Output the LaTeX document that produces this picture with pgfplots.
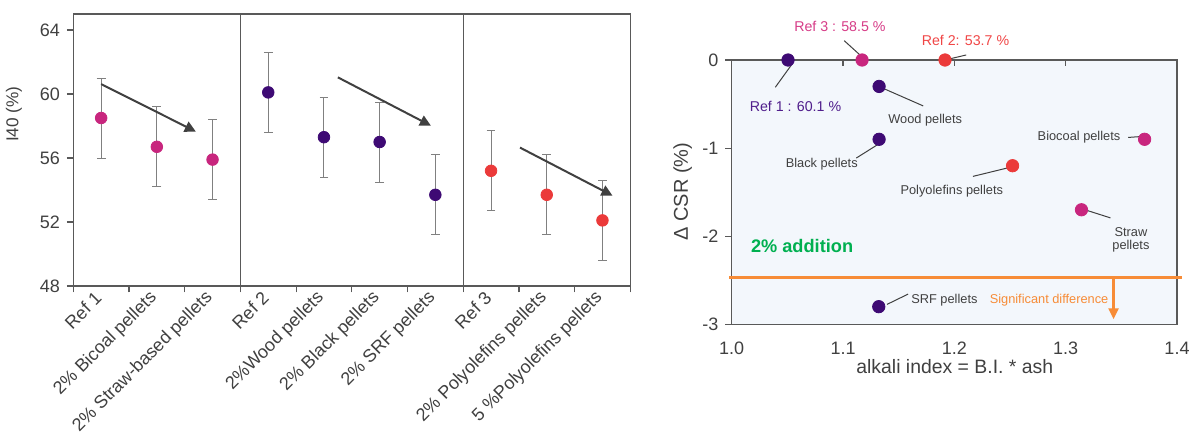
\documentclass[border=0pt]{standalone}
\usepackage{pgfplots}
\pgfplotsset{compat=1.18}
\usepackage{fontspec}
\setmainfont{Liberation Sans}
\usetikzlibrary{arrows.meta}

\definecolor{cmag}{RGB}{200,38,126}
\definecolor{cpur}{RGB}{62,10,116}
\definecolor{cred}{RGB}{235,58,58}
\definecolor{tmag}{RGB}{214,60,135}
\definecolor{tred}{RGB}{240,70,70}
\definecolor{tpur}{RGB}{80,30,140}
\definecolor{txtgray}{RGB}{64,64,64}
\definecolor{axgray}{RGB}{89,89,89}
\definecolor{errgray}{RGB}{128,128,128}
\definecolor{corange}{RGB}{247,140,55}
\definecolor{cgreen}{RGB}{0,176,80}
\definecolor{bgblue}{RGB}{243,247,252}

\newcommand{\fs}[1]{\fontsize{#1}{#1}\selectfont}

\pgfplotsset{
  common/.style={
    scale only axis, clip=false,
    axis line style={draw=axgray, line width=0.6bp},
    tick style={draw=axgray, line width=0.6bp},
    major tick length=3.2bp,
    tick label style={text=txtgray},
    label style={text=txtgray},
  },
  dots/.style={only marks, mark=*, mark size=#1},
}

\begin{document}
\begin{tikzpicture}
\useasboundingbox (0,0) rectangle (597.5bp,222bp);

% left panel: I40 per sample
\begin{axis}[common,
  at={(36.65bp,79bp)}, anchor=south west,
  width=278.5bp, height=136bp,
  xmin=-0.5, xmax=9.5, ymin=48, ymax=65,
  xtick={-0.5,0.5,...,9.5},
  x tick label as interval,
  xticklabels={Ref 1, 2\% Bicoal pellets, 2\% Straw-based pellets, Ref 2,
    2\%Wood pellets, 2\% Black pellets, 2\% SRF pellets, Ref 3,
    2\% Polyolefins pellets, 5 \%Polyolefins pellets},
  x tick label style={rotate=45, anchor=east, font=\fs{9bp}, xshift=1.5bp},
  ytick={48,52,56,60,64}, yticklabels={48,52,56,60,64},
  y tick label style={font=\fs{9bp}},
  tick align=outside, xtick pos=left, ytick pos=left,
  ylabel={I40 (\%)},
  ylabel style={at={(axis description cs:-0.1065,0.632)}, anchor=center, font=\fs{8.6bp}},
]
\draw[axgray, line width=0.6bp] (axis cs:2.5,48) -- (axis cs:2.5,65);
\draw[axgray, line width=0.6bp] (axis cs:6.5,48) -- (axis cs:6.5,65);

\addplot[dots=2.9bp, color=cmag,
  error bars/.cd, y dir=both, y explicit,
  error bar style={errgray, line width=0.5bp},
  error mark options={rotate=90, mark size=2.2bp, errgray, line width=0.5bp}]
  coordinates {(0,58.5) +- (0,2.5) (1,56.7) +- (0,2.5) (2,55.9) +- (0,2.5)};
\addplot[dots=2.9bp, color=cpur,
  error bars/.cd, y dir=both, y explicit,
  error bar style={errgray, line width=0.5bp},
  error mark options={rotate=90, mark size=2.2bp, errgray, line width=0.5bp}]
  coordinates {(3,60.1) +- (0,2.5) (4,57.3) +- (0,2.5) (5,57.0) +- (0,2.5) (6,53.7) +- (0,2.5)};
\addplot[dots=2.9bp, color=cred,
  error bars/.cd, y dir=both, y explicit,
  error bar style={errgray, line width=0.5bp},
  error mark options={rotate=90, mark size=2.2bp, errgray, line width=0.5bp}]
  coordinates {(7,55.2) +- (0,2.5) (8,53.7) +- (0,2.5) (9,52.1) +- (0,2.5)};

\draw[txtgray, line width=1bp, -{Triangle[length=5.5bp,width=5.5bp]}]
  (axis cs:0,60.62) -- (axis cs:1.70,57.65);
\draw[txtgray, line width=1bp, -{Triangle[length=5.5bp,width=5.5bp]}]
  (axis cs:4.25,61.04) -- (axis cs:5.92,58.02);
\draw[txtgray, line width=1bp, -{Triangle[length=5.5bp,width=5.5bp]}]
  (axis cs:7.52,56.65) -- (axis cs:9.18,53.65);
\end{axis}

% right panel: delta CSR vs alkali index
\begin{axis}[common,
  at={(365.85bp,59.85bp)}, anchor=south west,
  width=222.65bp, height=132.15bp,
  axis background/.style={fill=bgblue},
  xmin=1, xmax=1.4, ymin=-3, ymax=0,
  xtick={1,1.1,1.2,1.3,1.4}, xticklabels={1.0,1.1,1.2,1.3,1.4},
  ytick={-3,-2,-1,0}, yticklabels={-3,-2,-1,0},
  tick label style={font=\fs{9bp}},
  x tick label style={yshift=-5.5bp},
  xtick pos=right, xticklabel pos=left, xtick align=inside,
  ytick pos=left, ytick align=outside,
  xlabel={alkali index = B.I. * ash},
  xlabel style={at={(axis description cs:0.501,-0.1616)}, anchor=center, font=\fs{9.7bp}},
  ylabel={Δ CSR (\%)},
  ylabel style={at={(axis description cs:-0.110,0.502)}, anchor=center, font=\fs{10bp}},
]
\draw[txtgray, line width=0.5bp] (axis cs:1.1011,0.219) -- (axis cs:1.1195,0.008);
\draw[txtgray, line width=0.5bp] (axis cs:1.1916,0) -- (axis cs:1.2106,0.057);
\draw[txtgray, line width=0.5bp] (axis cs:1.0392,-0.309) -- (axis cs:1.0536,-0.057);
\draw[txtgray, line width=0.5bp] (axis cs:1.1379,-0.332) -- (axis cs:1.172,-0.521);
\draw[txtgray, line width=0.5bp] (axis cs:1.1119,-1.113) -- (axis cs:1.1333,-0.943);
\draw[txtgray, line width=0.5bp] (axis cs:1.3562,-0.879) -- (axis cs:1.3684,-0.868);
\draw[txtgray, line width=0.5bp] (axis cs:1.2167,-1.321) -- (axis cs:1.2498,-1.219);
\draw[txtgray, line width=0.5bp] (axis cs:1.3188,-1.706) -- (axis cs:1.3402,-1.792);
\draw[txtgray, line width=0.5bp] (axis cs:1.1395,-2.774) -- (axis cs:1.1585,-2.657);

% significance threshold and arrow
\addplot[corange, line width=1.15bp, forget plot] coordinates {(0.998,-2.468) (1.4046,-2.468)};
\addplot[corange, line width=1.15bp, forget plot, -{Triangle[length=5.5bp,width=5bp]}]
  coordinates {(1.343,-2.468) (1.343,-2.943)};

\addplot[dots=3.1bp, color=cpur] coordinates {(1.0506,0) (1.1324,-0.3) (1.1324,-0.9) (1.1321,-2.8)};
\addplot[dots=3.1bp, color=cmag] coordinates {(1.1171,0) (1.3709,-0.9) (1.3142,-1.7)};
\addplot[dots=3.1bp, color=cred] coordinates {(1.1916,0) (1.2523,-1.2)};

\node[text=tmag, font=\fs{7.1bp}] at (axis cs:1.0972,0.385) {Ref 3 : 58.5 \%};
\node[text=tred, font=\fs{7.1bp}] at (axis cs:1.21,0.226) {Ref 2: 53.7 \%};
\node[text=tpur, font=\fs{7.1bp}] at (axis cs:1.0573,-0.528) {Ref 1 : 60.1 \%};
\node[text=txtgray, font=\fs{6.4bp}] at (axis cs:1.1738,-0.679) {Wood pellets};
\node[text=txtgray, font=\fs{6.4bp}] at (axis cs:1.0809,-1.177) {Black pellets};
\node[text=txtgray, font=\fs{6.4bp}, anchor=east, inner sep=0pt] at (axis cs:1.3494,-0.879) {Biocoal pellets};
\node[text=txtgray, font=\fs{6.4bp}] at (axis cs:1.1977,-1.491) {Polyolefins pellets};
\node[text=txtgray, font=\fs{6.4bp}, align=center] at (axis cs:1.3586,-2.045) {Straw\\pellets};
\node[text=txtgray, font=\fs{6.4bp}, anchor=west, inner sep=0pt] at (axis cs:1.161,-2.728) {SRF pellets};
\node[text=corange, font=\fs{6.4bp}, anchor=east, inner sep=0pt] at (axis cs:1.3387,-2.725) {Significant difference};
\node[text=cgreen, font=\bfseries\fs{9.1bp}, anchor=west, inner sep=0pt] at (axis cs:1.017,-2.106) {2\% addition};
\end{axis}
\end{tikzpicture}
\end{document}
